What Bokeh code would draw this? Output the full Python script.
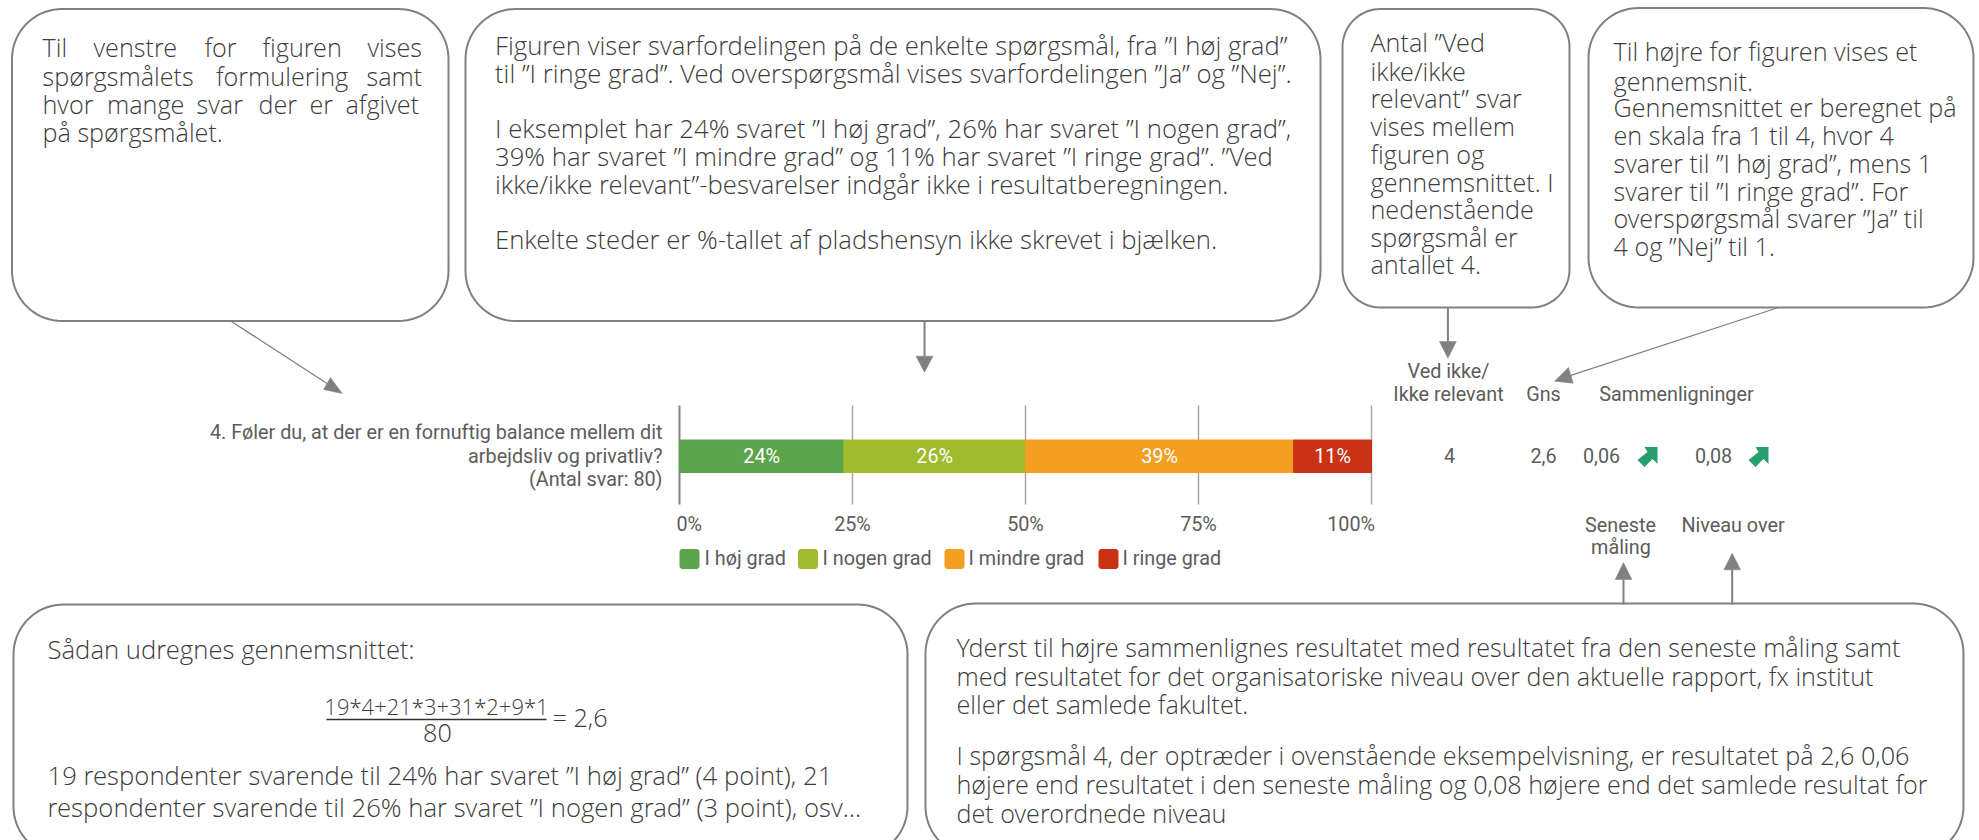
import math
from bokeh.core.properties import value
from bokeh.embed import file_html
from bokeh.models import ColumnDataSource, Range1d
from bokeh.plotting import figure
from bokeh.resources import INLINE

# ---- data ----
answer_labels = ["I høj grad", "I nogen grad", "I mindre grad", "I ringe grad"]
answer_counts = [19, 21, 31, 9]
answer_total = 80
bar_labels = ["24%", "26%", "39%", "11%"]
bar_colors = ["#5aa54c", "#a0bb2e", "#f29f22", "#c93314"]
tick_values = [0, 25, 50, 75, 100]
tick_labels = ["0%", "25%", "50%", "75%", "100%"]
question_lines = ["4. Føler du, at der er en fornuftig balance mellem dit",
                  "arbejdsliv og privatliv?", "(Antal svar: 80)"]
na_value = "4"
mean_value = "2,6"
comparison_values = ["0,06", "0,08"]

CALL = value("Open Sans Light")
CHART = value("Roboto")
GREY = "#808080"
INK = "#3c3c3c"
CHART_INK = "#5c5c5c"
CH = "19.8px"
SZ = "25.2px"
SZ_WIDE = "25.7px"

p = figure(width=1979, height=840, output_backend="svg", toolbar_location=None,
           x_range=Range1d(0, 1979), y_range=Range1d(840, 0),
           min_border=0, outline_line_color=None, background_fill_color="white",
           border_fill_color="white")
p.xaxis.visible = False
p.yaxis.visible = False
p.grid.visible = False
# percentage scale: 0 % and 100 % land on the plot's axis and last gridline
X0, X100 = 679.0, 1371.0
px_per = (X100 - X0) / 100
p.extra_x_ranges["pct"] = Range1d((0 - X0) / px_per, (1979 - X0) / px_per)


def round_box(l, t, r, b, rad):
    xs, ys = [], []
    for cx, cy, a0 in [(r - rad, t + rad, -90), (r - rad, b - rad, 0),
                       (l + rad, b - rad, 90), (l + rad, t + rad, 180)]:
        for k in range(19):
            a = math.radians(a0 + k * 5)
            xs.append(cx + rad * math.cos(a))
            ys.append(cy + rad * math.sin(a))
    p.patch(xs, ys, fill_color="white", line_color=GREY, line_width=2)


def arrow(x0, y0, tip, base_a, base_b, lw=1.5):
    mx, my = (base_a[0] + base_b[0]) / 2, (base_a[1] + base_b[1]) / 2
    p.line([x0, mx], [y0, my], line_color=GREY, line_width=lw)
    p.patch([tip[0], base_a[0], base_b[0]], [tip[1], base_a[1], base_b[1]],
            fill_color=GREY, line_color=GREY, line_width=0.5)


def txt(x, y, s, font=CALL, size=SZ, color=INK, align="left", **kw):
    p.text([x], [y], text=[s], text_font=font, text_font_size=size, text_color=color,
           text_align=align, text_baseline="middle", **kw)


# ---- call-out boxes ----
round_box(11.5, 8.5, 448, 320.5, 50)
round_box(465, 8.5, 1320, 320.5, 50)
round_box(1342, 8.5, 1569, 307, 38)
round_box(1588, 7.5, 1973, 307, 50)
round_box(13, 604, 907, 856, 50)
round_box(925, 603, 1963, 856, 50)

# ---- arrows ----
arrow(230.6, 320.7, (341.7, 393), (330, 377), (323, 389), 1.3)
arrow(924, 320.7, (924, 371.7), (915.5, 355.7), (932.5, 355.7), 2)
arrow(1447.4, 307, (1447.4, 357.7), (1439, 341), (1455.8, 341), 2)
arrow(1778, 307, (1554, 380.7), (1568, 367), (1572.7, 382.7), 1.3)
arrow(1623, 604, (1623, 562), (1614.7, 579), (1631.3, 579), 2)
arrow(1731.7, 604, (1731.7, 552.7), (1723.4, 569.3), (1740, 569.3), 2)

# ---- box 1, justified lines ----
for y, words in [(46, [(42, "Til"), (93, "venstre"), (204, "for"), (262, "figuren"), (367, "vises")]),
                 (75, [(42, "spørgsmålets"), (215.5, "formulering"), (366, "samt")]),
                 (103, [(42, "hvor"), (106.5, "mange"), (196, "svar"), (258, "der"), (309, "er"), (345, "afgivet")]),
                 (131, [(42, "på spørgsmålet.")])]:
    for x, w in words:
        txt(x, y, w)

# ---- box 2 ----
for y, s in [(45, "Figuren viser svarfordelingen på de enkelte spørgsmål, fra ”I høj grad”"),
             (73, "til ”I ringe grad”. Ved overspørgsmål vises svarfordelingen ”Ja” og ”Nej”."),
             (128, "I eksemplet har 24% svaret ”I høj grad”, 26% har svaret ”I nogen grad”,"),
             (156, "39% har svaret ”I mindre grad” og 11% har svaret ”I ringe grad”. ”Ved"),
             (184, "ikke/ikke relevant”-besvarelser indgår ikke i resultatberegningen."),
             (239, "Enkelte steder er %-tallet af pladshensyn ikke skrevet i bjælken.")]:
    txt(494.5, y, s, size=SZ_WIDE)

# ---- box 3 ----
for y, s in zip([41.5, 70.5, 97.5, 125.5, 153.5, 181.5, 208.5, 236.5, 263.5],
                ["Antal ”Ved", "ikke/ikke", "relevant” svar", "vises mellem", "figuren og",
                 "gennemsnittet. I", "nedenstående", "spørgsmål er", "antallet 4."]):
    txt(1370, y, s)

# ---- box 4 ----
for y, s in zip([50, 80, 106, 134, 162, 190, 217, 245],
                ["Til højre for figuren vises et", "gennemsnit.", "Gennemsnittet er beregnet på",
                 "en skala fra 1 til 4, hvor 4", "svarer til ”I høj grad”, mens 1",
                 "svarer til ”I ringe grad”. For", "overspørgsmål svarer ”Ja” til",
                 "4 og ”Nej” til 1."]):
    txt(1613, y, s)

# ---- bottom left ----
txt(47, 649, "Sådan udregnes gennemsnittet:", size=SZ_WIDE)
txt(436, 705, "19*4+21*3+31*2+9*1", align="center", size="22px")
p.line([326, 546], [719, 719], line_color="#303030", line_width=1.5)
txt(437, 732, "80", align="center")
txt(552, 716, "= 2,6")
txt(47, 775, "19 respondenter svarende til 24% har svaret ”I høj grad” (4 point), 21", size=SZ_WIDE)
txt(47, 807, "respondenter svarende til 26% har svaret ”I nogen grad” (3 point), osv…", size=SZ_WIDE)

# ---- bottom right ----
for y, s in [(646.5, "Yderst til højre sammenlignes resultatet med resultatet fra den seneste måling samt"),
             (675, "med resultatet for det organisatoriske niveau over den aktuelle rapport, fx institut"),
             (703.5, "eller det samlede fakultet."),
             (754, "I spørgsmål 4, der optræder i ovenstående eksempelvisning, er resultatet på 2,6 0,06"),
             (783.5, "højere end resultatet i den seneste måling og 0,08 højere end det samlede resultat for"),
             (812.5, "det overordnede niveau")]:
    txt(956, y, s)

# ---- the chart ----
BAR_TOP, BAR_BOTTOM = 439.5, 472
for t in tick_values[1:]:
    p.line([t, t], [405, 504], x_range_name="pct", line_color="#a6a6a6", line_width=1.5)
p.line([0, 0], [405, 504], x_range_name="pct", line_color="#808080", line_width=2)

pct = [c / answer_total * 100 for c in answer_counts]
lefts = [sum(pct[:i]) for i in range(len(pct))]
rights = [l + v for l, v in zip(lefts, pct)]
mids = [l + v / 2 for l, v in zip(lefts, pct)]
src = ColumnDataSource(dict(left=lefts, right=rights, color=bar_colors, mid=mids, label=bar_labels,
                            top=[BAR_TOP] * 4, bottom=[BAR_BOTTOM] * 4, y=[455.5] * 4))
p.quad(left="left", right="right", top="top", bottom="bottom", color="color", source=src, x_range_name="pct")
p.text(x="mid", y="y", text="label", source=src, x_range_name="pct", text_color="white",
       text_font=CHART, text_font_size=CH, text_align="center", text_baseline="middle")
tick_src = ColumnDataSource(dict(x=tick_values, y=[524] * 5, label=tick_labels,
                                 align=["left", "center", "center", "center", "right"],
                                 off=[-3, 0, 0, 0, 3.5]))
p.text(x="x", y="y", text="label", text_align="align", x_offset="off", source=tick_src, x_range_name="pct",
       text_color=CHART_INK, text_font=CHART, text_font_size=CH, text_baseline="middle")

for y, s in zip([431.5, 455.5, 479], question_lines):
    txt(662, y, s, font=CHART, size=CH, color=CHART_INK, align="right")

# legend
for sw, tx, c, s in zip([679, 797.5, 944, 1098], [704, 822, 968, 1122], bar_colors, answer_labels):
    xs, ys = [], []
    for cx, cy, a0 in [(sw + 17, 551.5, -90), (sw + 17, 565.5, 0), (sw + 3, 565.5, 90), (sw + 3, 551.5, 180)]:
        for k in range(7):
            a = math.radians(a0 + k * 15)
            xs.append(cx + 3 * math.cos(a))
            ys.append(cy + 3 * math.sin(a))
    p.patch(xs, ys, fill_color=c, line_color=None)
    txt(tx, 558, s, font=CHART, size=CH, color=CHART_INK)

# right-hand columns
txt(1448, 371, "Ved ikke/", font=CHART, size=CH, color=CHART_INK, align="center")
txt(1448, 394, "Ikke relevant", font=CHART, size=CH, color=CHART_INK, align="center")
txt(1543, 394, "Gns", font=CHART, size=CH, color=CHART_INK, align="center")
txt(1676, 394, "Sammenligninger", font=CHART, size=CH, color=CHART_INK, align="center")
txt(1449, 455, na_value, font=CHART, size=CH, color=CHART_INK, align="center")
txt(1543, 455, mean_value, font=CHART, size=CH, color=CHART_INK, align="center")
for cx, ax, s in zip([1601, 1713], [1647, 1758], comparison_values):
    txt(cx, 455, s, font=CHART, size=CH, color=CHART_INK, align="center")
    d = [(10, -10), (-3, -10), (0, -5), (-10, 3), (-3, 10), (5, 2), (10, 7)]
    p.patch([ax + a for a, _ in d], [456.5 + b for _, b in d], fill_color="#2a9d6f", line_color=None)
txt(1620, 525, "Seneste", font=CHART, size=CH, color=CHART_INK, align="center")
txt(1620.5, 547, "måling", font=CHART, size=CH, color=CHART_INK, align="center")
txt(1732.5, 525, "Niveau over", font=CHART, size=CH, color=CHART_INK, align="center")

open("out.html", "w").write(file_html(p, INLINE))
